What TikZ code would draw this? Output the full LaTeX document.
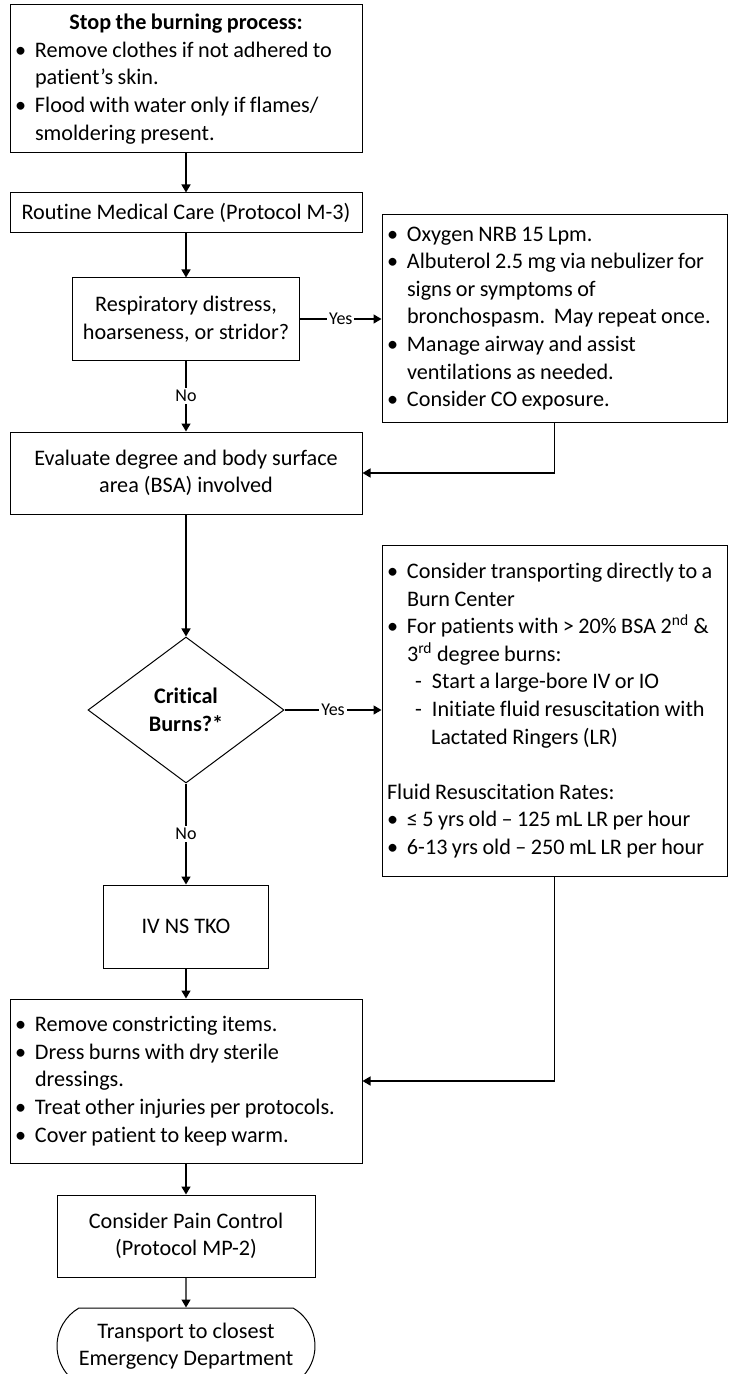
\documentclass[tikz,border=0pt]{standalone}
\usepackage{fontspec}
\setmainfont{Carlito}[Ligatures=TeX,RawFeature={-liga}]
\usetikzlibrary{shapes.geometric,shapes.misc,arrows.meta}

\newcommand{\bitem}{\makebox[10pt][l]{\textbullet}}
\newcommand{\bcont}{\hspace*{10pt}}
\newcommand{\ditem}{\hspace*{14pt}\makebox[8.5pt][l]{-}}
\newcommand{\nowrap}{\rightskip=-40pt plus 1fil\relax\spaceskip=0.2em\relax}

\begin{document}
\begin{tikzpicture}
  [x=0.5pt,y=-0.5pt,font=\fontsize{11.1}{13.8}\selectfont,
   box/.style={draw,line width=0.5pt,inner sep=0pt,align=center},
   listbox/.style={box,inner xsep=2.5pt,align=left},
   conn/.style={-{Triangle[width=4.5pt,length=4pt]},line width=0.7pt},
   lbl/.style={fill=white,inner sep=1pt,font=\fontsize{9}{10}\selectfont}]
  \useasboundingbox (0,0) rectangle (728,1374);

  \node[listbox,text width=171pt,minimum height=74pt] (stop) at (186,79)
    {\nowrap\makebox[171pt]{\textbf{Stop the burning process:}}\\
     \bitem Remove clothes if not adhered to\\
     \bcont patient's skin.\\
     \bitem Flood with water only if flames/\\
     \bcont\mbox{smoldering present.}};
  \node[box,minimum width=176pt,minimum height=20pt] (rmc) at (186,213)
    {Routine Medical Care (Protocol M-3)};
  \node[box,minimum width=113.5pt,minimum height=41pt] (resp) at (186,319)
    {Respiratory distress,\\hoarseness, or stridor?};
  \node[listbox,text width=167.5pt,minimum height=103.5pt] (oxy) at (554.5,318.5)
    {\nowrap\bitem Oxygen NRB 15 Lpm.\\
     \bitem Albuterol 2.5 mg via nebulizer for\\
     \bcont signs or symptoms of\\
     \bcont bronchospasm.\ \ May repeat once.\\
     \bitem Manage airway and assist\\
     \bcont ventilations as needed.\\
     \bitem\mbox{Consider CO exposure.}};
  \node[box,minimum width=176pt,minimum height=41pt] (eval) at (186,473)
    {Evaluate degree and body surface\\area (BSA) involved};
  \node[box,diamond,minimum width=98pt,minimum height=73pt,
        font=\fontsize{11.1}{13.8}\selectfont\bfseries] (crit) at (186,710)
    {Critical\\Burns?*};
  \node[listbox,text width=167.5pt,minimum height=165.5pt] (bctr) at (554.5,710.5)
    {\nowrap\bitem Consider transporting directly to a\\
     \bcont Burn Center\\
     \bitem For patients with > 20\% BSA 2\textsuperscript{nd} \&\\
     \bcont 3\textsuperscript{rd} degree burns:\\
     \ditem Start a large-bore IV or IO\\
     \ditem Initiate fluid resuscitation with\\
     \hspace*{22pt}Lactated Ringers (LR)\\[13.8pt]
     Fluid Resuscitation Rates:\\
     \bitem ≤ 5 yrs old -- 125 mL LR per hour\\
     \bitem\mbox{6-13 yrs old -- 250 mL LR per hour}};
  \node[box,minimum width=82.5pt,minimum height=41.5pt] (ivns) at (186,926.5)
    {IV NS TKO};
  \node[listbox,text width=171pt,minimum height=82pt] (dress) at (186,1081)
    {\nowrap\bitem Remove constricting items.\\
     \bitem Dress burns with dry sterile\\
     \bcont dressings.\\
     \bitem Treat other injuries per protocols.\\
     \bitem\mbox{Cover patient to keep warm.}};
  \node[box,minimum width=129pt,minimum height=41pt] (pain) at (186,1236)
    {Consider Pain Control\\(Protocol MP-2)};
  \node[box,rounded rectangle,rounded rectangle arc length=120,
        minimum width=129pt,minimum height=38pt] (trans) at (186,1346)
    {Transport to closest\\Emergency Department};

  \foreach \from/\to in {stop/rmc,rmc/resp,eval/crit,ivns/dress,dress/pain,pain/trans}
    \draw[conn] (\from) -- (\to);

  \draw[conn] (resp.east) -- node[lbl] {Yes} (resp.east -| oxy.west);
  \draw[conn] (resp) -- node[lbl] {No} (eval);
  \draw[conn] (oxy.south) |- (eval.east);
  \draw[conn] (crit.east) -- node[lbl] {Yes} (crit.east -| bctr.west);
  \draw[conn] (crit) -- node[lbl] {No} (ivns);
  \draw[conn] (bctr.south) |- (dress.east);

\end{tikzpicture}
\end{document}
